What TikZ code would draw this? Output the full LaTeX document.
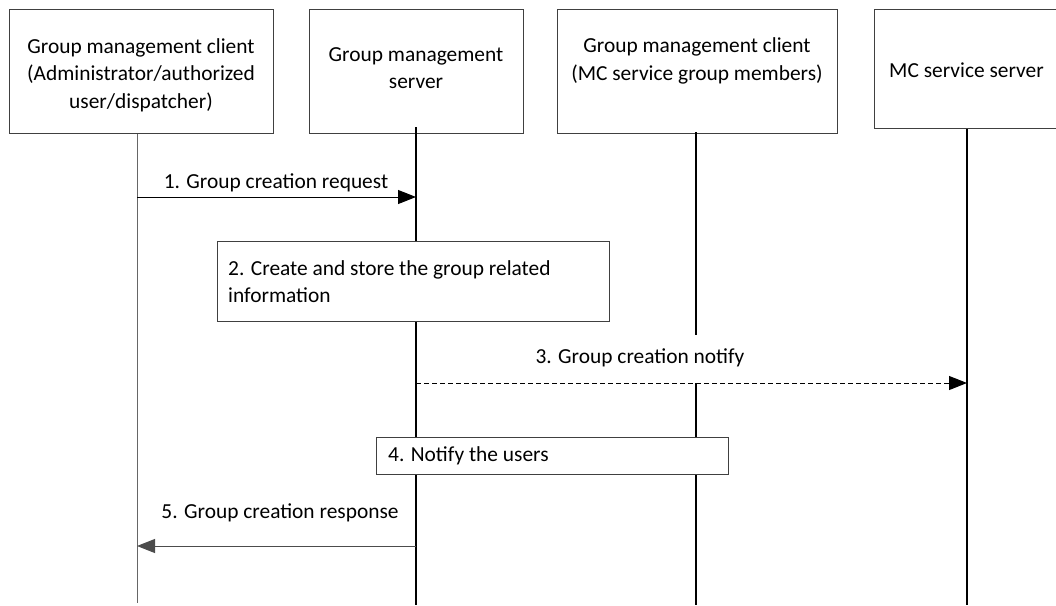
\documentclass[tikz,border=0pt]{standalone}
\usepackage{fontspec}
\setmainfont{Carlito}
\usetikzlibrary{arrows.meta}
\begin{document}
\begin{tikzpicture}[x=1pt,y=-1pt,
  box/.style={draw=black!75, line width=1pt, fill=white, inner sep=0pt, anchor=north west},
  lbl/.style={font=\fontsize{21.4}{27.5}\selectfont, align=center, inner sep=0pt},
  steptext/.style={font=\fontsize{21.4}{27.5}\selectfont, align=left, inner sep=0pt, anchor=west},
  msg/.style={-{Triangle[length=18pt,width=14pt]}, line width=1pt}]
\useasboundingbox (0,0) rectangle (1056,605);
\clip (0,0) rectangle (1056,605);
% header boxes
\node[box, minimum width=264pt, minimum height=124pt] (b1) at (9,9) {};
\node[box, minimum width=214pt, minimum height=124pt] (b2) at (309,9) {};
\node[box, minimum width=280pt, minimum height=124pt] (b3) at (557,9) {};
\node[box, minimum width=190pt, minimum height=119pt] (b4) at (874,9) {};
\node[lbl] (t1) at (141,75) {Group management client\\(Administrator/authorized\\user/dispatcher)};
\node[lbl] (t2) at (416,68) {Group management\\server};
\node[lbl] (t3) at (697,61) {Group management client\\(MC service group members)};
\node[lbl, anchor=west] (t4) at (889,70) {MC service server};
% lifeline ends
\coordinate (e1) at (137,603);
\coordinate (e2) at (416,605);
\coordinate (e3) at (696,605);
\coordinate (e4) at (967,605);
\coordinate (s2) at (416,127);
\coordinate (s3) at (696,132);
\coordinate (g3a) at (696,335);
\coordinate (g3b) at (696,383);
% lifelines
\draw[black!60, line width=1pt] (e1 |- b1.south) -- (e1);
\draw[black, line width=2pt] (s2) -- (e2);
\draw[black, line width=1.5pt] (s3) -- (g3a);
\draw[black, line width=1.5pt] (g3b) -- (e3);
\draw[black, line width=1.5pt] (e4 |- b4.south) -- (e4);
% message 1
\coordinate (m1a) at (137,197);
\coordinate (m1b) at (416,197);
\draw[msg] (m1a) -- (m1b);
\node[lbl] (l1) at (276,183) {1. Group creation request};
% step 2
\node[box, minimum width=392pt, minimum height=80pt] (st2) at (217,241) {};
\node[steptext] (st2t) at (228,281.5) {2. Create and store the group related\\information};
% message 3
\coordinate (m3a) at (416,383);
\coordinate (m3b) at (967,383);
\draw[msg, dash pattern=on 5pt off 3pt] (m3a) -- (m3b);
\node[lbl] (l3) at (640,358) {3. Group creation notify};
% step 4
\node[box, minimum width=352pt, minimum height=37pt] (st4) at (376,437) {};
\node[steptext] (st4t) at (388,456) {4. Notify the users};
% message 5
\coordinate (m5a) at (416,546);
\coordinate (m5b) at (137,546);
\draw[msg, black!70] (m5a) -- (m5b);
\node[lbl] (l5) at (280,513) {5. Group creation response};
\end{tikzpicture}
\end{document}
